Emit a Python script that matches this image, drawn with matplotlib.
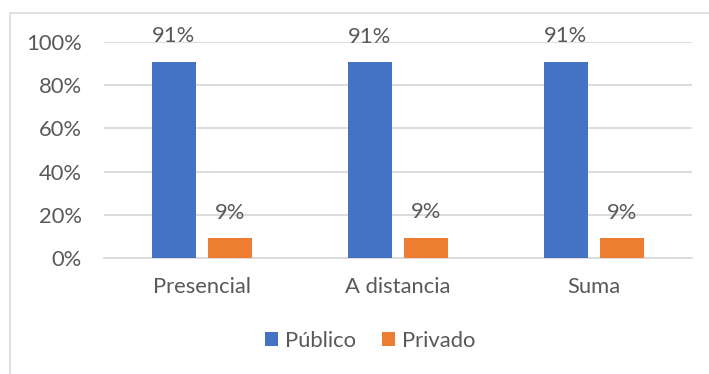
import matplotlib.pyplot as plt
from matplotlib.patches import Rectangle

# data
categories = ["Presencial", "A distancia", "Suma"]
publico = [0.909, 0.906, 0.909]
privado = [0.091, 0.094, 0.091]
series_names = ["Público", "Privado"]

blue = "#4472C4"
orange = "#ED7D31"
grid = "#D9D9D9"
text_col = "#595959"

plt.rcParams['font.family'] = ['Lato', 'DejaVu Sans']
fs = 15.8

W, H = 709, 374
fig = plt.figure(figsize=(W / 100, H / 100), dpi=100)

# outer chart frame
fig.patches.append(Rectangle((10 / W, -0.1), 1.2, (H - 13) / H + 0.1,
                             transform=fig.transFigure, fill=False,
                             edgecolor=grid, linewidth=1.2))

# plot area in pixels: x 104..692, y 42..258 (from top)
ax = fig.add_axes([104 / W, 1 - 258 / H, (692 - 104) / W, (258 - 42) / H])

x = list(range(len(categories)))
bw = 0.224
off = 0.143
b1 = ax.bar([i - off for i in x], publico, bw, color=blue, label=series_names[0], zorder=3)
b2 = ax.bar([i + off for i in x], privado, bw, color=orange, label=series_names[1], zorder=3)

for bars, vals in ((b1, publico), (b2, privado)):
    for r, v in zip(bars, vals):
        ax.annotate(f"{round(v * 100)}%", (r.get_x() + r.get_width() / 2, v),
                    xytext=(0, 11), textcoords="offset points",
                    ha="center", va="bottom", fontsize=fs, color=text_col)

ax.set_xlim(-0.5, 2.5)
ax.set_ylim(0, 1)
ax.set_yticks([0, 0.2, 0.4, 0.6, 0.8, 1.0])
ax.set_yticklabels([f"{int(t * 100)}%" for t in [0, 0.2, 0.4, 0.6, 0.8, 1.0]])
ax.set_xticks(x)
ax.set_xticklabels(categories)
ax.tick_params(axis='both', length=0, labelsize=fs, colors=text_col)
ax.tick_params(axis='y', pad=16)
ax.tick_params(axis='x', pad=14)
ax.yaxis.grid(True, color=grid, linewidth=1.3, zorder=0)
for s in ["top", "right", "left"]:
    ax.spines[s].set_visible(False)
ax.spines["bottom"].set_color(grid)
ax.spines["bottom"].set_linewidth(1.3)

fig.legend(handles=[b1, b2], loc="center", bbox_to_anchor=(370 / W, 1 - 341 / H),
           ncol=2, frameon=False, fontsize=fs, labelcolor=text_col,
           handlelength=0.6, handleheight=0.6, handletextpad=0.3, columnspacing=1.2)

fig.savefig("out.png", dpi=100)
